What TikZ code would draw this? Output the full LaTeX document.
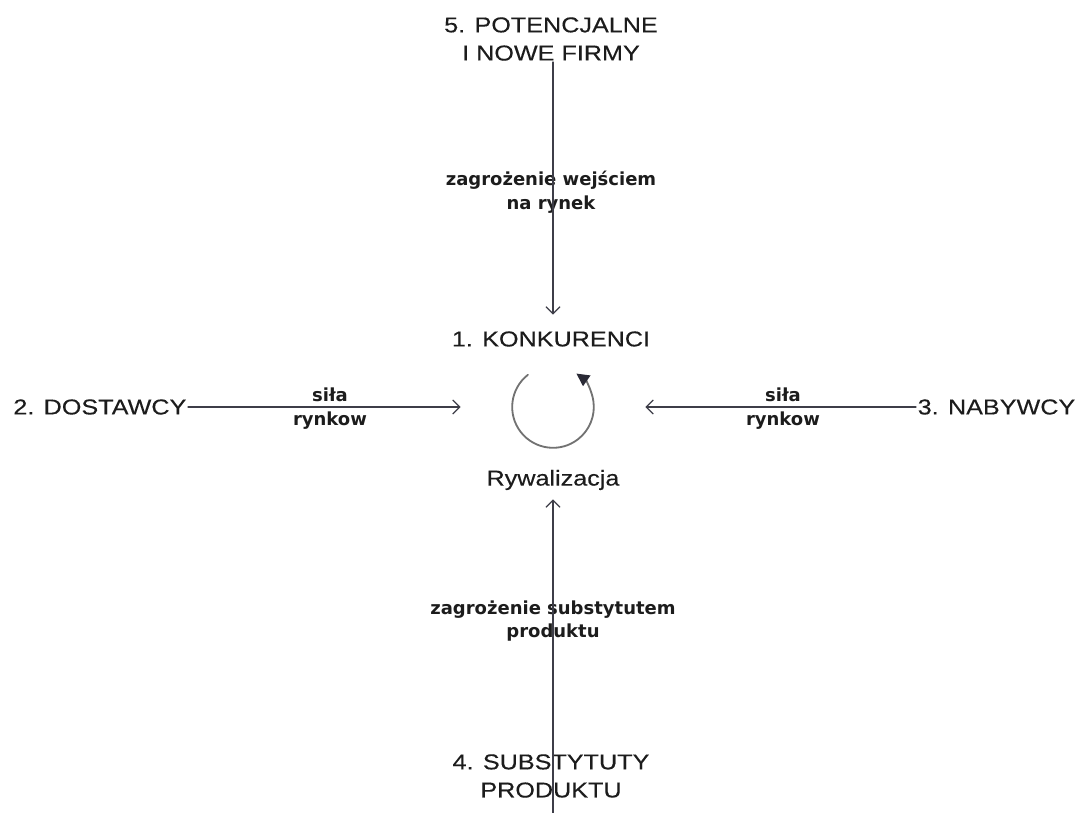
\documentclass[tikz,border=0pt]{standalone}
\usepackage{fontspec}
\setmainfont{Liberation Sans}
\newfontfamily\headfont[FakeStretch=1.17,FakeBold=0.3]{Liberation Sans}
\newfontfamily\lblfont{DejaVu Sans}
\usetikzlibrary{arrows.meta}
\definecolor{ink}{HTML}{1C1C1C}
\definecolor{wire}{HTML}{3E3E48}
\definecolor{loopgray}{HTML}{727272}
\definecolor{tipdark}{HTML}{2A2A36}

\begin{document}
\begin{tikzpicture}[x=0.025cm,y=-0.025cm,line cap=round,line join=round,
		force/.style={draw=wire,line width=0.9pt,-{Straight Barb[length=5pt,width=10pt]}},
		head/.style={text=ink,font=\headfont\fontsize{15.3}{20}\selectfont,align=center,inner sep=1pt},
		lbl/.style={text=ink,font=\lblfont\bfseries\fontsize{12.8}{17}\selectfont,align=center,inner sep=0pt}]
			\useasboundingbox (0,0) rectangle (1086,813);
			
			% hub the four forces point at
			\node[circle,minimum size=4.6cm,inner sep=0pt] (hub) at (553,407) {};
			
			\node[head] (konk) at (551,339) {1. KONKURENCI};
			\node[head] (ryw) at (553,480) {Rywalizacja};
			\node[head] (nowe) at (551,39) {5. POTENCJALNE\\I NOWE FIRMY};
			\node[head] (subst) at (551,776) {4. SUBSTYTUTY\\PRODUKTU};
			\node[head,anchor=east] (dost) at (188,407) {2. DOSTAWCY};
			\node[head,anchor=west] (nab) at (916,407) {3. NABYWCY};
			
			\node[lbl] (wej) at (551,192) {zagrożenie wejściem\\na rynek};
			\node[lbl] (sub) at (553,621) {zagrożenie substytutem\\produktu};
			\node[lbl] (silaL) at (330,409) {siła\\rynkow};
			\node[lbl] (silaR) at (783,409) {siła\\rynkow};
			
			\coordinate (top) at (553,62);
			\coordinate (bot) at (553,813);
			\draw[force] (top) -- (hub);
			\draw[force] (bot) -- (hub);
			\draw[force] (dost) -- (hub);
			\draw[force] (nab) -- (hub);
			
			% rivalry loop
			\draw[draw=loopgray,line width=1.3pt,-{Triangle[length=9pt,width=9pt,color=tipdark]}]
				(hub.center) ++(128:1.02cm) arc[start angle=128,end angle=415,radius=1.02cm];
		\end{tikzpicture}
\end{document}
